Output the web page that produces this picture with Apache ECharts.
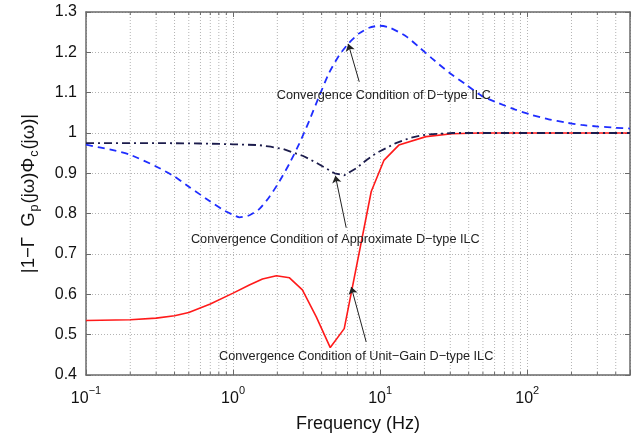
<!DOCTYPE html>
<html>
<head>
<meta charset="utf-8">
<script src="https://cdn.jsdelivr.net/npm/echarts@6/dist/echarts.min.js"></script>
<style>html,body{margin:0;padding:0;background:#fff}#c{width:641px;height:441px}</style>
</head>
<body>
<div id="c"></div>
<script>
// ---- data ----
var X_MIN = 0.1, X_MAX = 500, Y_MIN = 0.4, Y_MAX = 1.3, Y_STEP = 0.1;

var blueFreq = [0.1, 0.15, 0.2, 0.3, 0.4, 0.5, 0.7, 0.85, 1.0, 1.107, 1.294, 1.512, 1.768, 2.067, 2.416, 2.824, 3.301, 3.858, 4.51, 5.27, 6.16, 7.20, 8.42, 9.84, 11.5, 15, 18.5, 22.5, 29.4, 38.4, 49, 64, 83, 107, 140, 182, 234, 305, 400, 500];
var blueVals = [0.971, 0.958, 0.946, 0.917, 0.892, 0.867, 0.830, 0.810, 0.797, 0.791, 0.796, 0.812, 0.842, 0.880, 0.924, 0.974, 1.031, 1.092, 1.150, 1.193, 1.224, 1.247, 1.261, 1.266, 1.262, 1.240, 1.212, 1.185, 1.150, 1.120, 1.092, 1.074, 1.058, 1.045, 1.034, 1.026, 1.020, 1.016, 1.013, 1.011];

var ddFreq = [0.1, 0.3, 0.6, 1.0, 1.5, 1.8, 2.2, 2.5, 3.0, 3.7, 4.3, 4.9, 5.7, 6.9, 8.0, 9.4, 12.8, 16, 20.5, 31, 500];
var ddVals = [0.975, 0.975, 0.974, 0.972, 0.970, 0.966, 0.960, 0.953, 0.943, 0.926, 0.912, 0.900, 0.895, 0.913, 0.932, 0.950, 0.975, 0.988, 0.996, 1.0, 1.0];

var redFreq = [0.1, 0.2, 0.3, 0.4, 0.5, 0.7, 1.0, 1.29, 1.585, 1.97, 2.42, 2.96, 3.68, 4.58, 5.7, 8.7, 10.6, 13.4, 20.5, 30.8, 47, 500];
var redVals = [0.535, 0.537, 0.541, 0.547, 0.555, 0.576, 0.603, 0.623, 0.638, 0.646, 0.641, 0.611, 0.544, 0.468, 0.515, 0.855, 0.932, 0.970, 0.991, 0.998, 1.0, 1.0];

var minorFreqs = [0.2, 0.3, 0.4, 0.5, 0.6, 0.7, 0.8, 0.9, 2, 3, 4, 5, 6, 7, 8, 9, 20, 30, 40, 50, 60, 70, 80, 90, 200, 300, 400];

var annotationTexts = ['Convergence Condition of D\u2212type ILC', 'Convergence Condition of Approximate D\u2212type ILC', 'Convergence Condition of Unit\u2212Gain D\u2212type ILC'];
var annotationAt = [[10.6, 1.092], [4.96, 0.735], [6.87, 0.445]];
var arrowFrom = [[7.21, 1.127], [5.88, 0.765], [8.04, 0.482]];
var arrowTo = [[6.07, 1.221], [4.96, 0.894], [6.36, 0.618]];

var xTitle = 'Frequency (Hz)';

// ---- build ----
function zip(a, b) { return a.map(function (v, i) { return [v, b[i]]; }); }
var FONT = '"Liberation Sans", Arial, Helvetica, sans-serif';
var FRAME = '#6a6a6a';
var GRID = '#b4b4b4';

function decadeLabel(v) {
  var e = Math.round(Math.log(v) / Math.LN10);
  if (Math.abs(v - Math.pow(10, e)) > 1e-6 * v) return '';
  return '{b|10}{s|' + (e < 0 ? '\u2212' + (-e) : String(e)) + '}';
}

var chart = echarts.init(document.getElementById('c'), null, { renderer: 'canvas' });
var option = {
  animation: false,
  backgroundColor: '#fff',
  grid: { left: 86, right: 11, top: 12, bottom: 66, containLabel: false },
  xAxis: [{
    type: 'log', logBase: 10, min: X_MIN, max: X_MAX,
    name: xTitle, nameLocation: 'middle', nameGap: 40,
    nameTextStyle: { fontFamily: FONT, fontSize: 18, color: '#111' },
    axisLine: { show: true, lineStyle: { color: FRAME, width: 1.5 } },
    axisTick: { show: true, inside: true, length: 5, lineStyle: { color: FRAME } },
    axisLabel: {
      formatter: decadeLabel, margin: 10, color: '#111', fontFamily: FONT,
      rich: {
        b: { fontSize: 16, lineHeight: 22, verticalAlign: 'bottom', fontFamily: FONT, color: '#111' },
        s: { fontSize: 11, lineHeight: 12, verticalAlign: 'top', fontFamily: FONT, color: '#111' }
      }
    },
    splitLine: { show: true, lineStyle: { color: GRID, type: [1, 2], width: 1 } }
  }, {
    type: 'log', logBase: 10, min: X_MIN, max: X_MAX, position: 'top',
    axisLine: { show: true, lineStyle: { color: FRAME, width: 1.5 } },
    axisTick: { show: true, inside: true, length: 5, lineStyle: { color: FRAME } },
    axisLabel: { show: false }, splitLine: { show: false }
  }],
  yAxis: [{
    type: 'value', min: Y_MIN, max: Y_MAX, interval: Y_STEP,
    name: '{m||1\u2212\u0393  G}{u|p}{m|(j\u03c9)\u03a6}{u|c}{m|(j\u03c9)|}',
    nameLocation: 'middle', nameGap: 45, nameRotate: 90,
    nameTextStyle: {
      fontFamily: FONT, color: '#111',
      rich: {
        m: { fontSize: 18.5, lineHeight: 22, verticalAlign: 'top', fontFamily: FONT, color: '#111' },
        u: { fontSize: 12.5, lineHeight: 12, verticalAlign: 'bottom', fontFamily: FONT, color: '#111', padding: [0, 1, 0, 1] }
      }
    },
    axisLine: { show: true, lineStyle: { color: FRAME, width: 1.5 } },
    axisTick: { show: true, inside: true, length: 5, lineStyle: { color: FRAME } },
    axisLabel: { fontSize: 16, fontFamily: FONT, color: '#111', margin: 9 },
    splitLine: { show: true, lineStyle: { color: GRID, type: [1, 2], width: 1 } }
  }, {
    type: 'value', min: Y_MIN, max: Y_MAX, interval: Y_STEP, position: 'right',
    axisLine: { show: true, lineStyle: { color: FRAME, width: 1.5 } },
    axisTick: { show: true, inside: true, length: 5, lineStyle: { color: FRAME } },
    axisLabel: { show: false }, splitLine: { show: false }
  }],
  series: [{
    type: 'custom', silent: true, z: 1,
    data: minorFreqs.map(function (f) { return [f, Y_MIN]; }),
    encode: { x: 0, y: 1 },
    renderItem: function (params, api) {
      var f = api.value(0);
      var b = api.coord([f, Y_MIN]);
      var t = api.coord([f, Y_MAX]);
      return {
        type: 'group', children: [
          { type: 'line', shape: { x1: b[0], y1: b[1], x2: t[0], y2: t[1] }, style: { stroke: GRID, lineWidth: 1, lineDash: [1, 2] } },
          { type: 'line', shape: { x1: b[0], y1: b[1], x2: b[0], y2: b[1] - 3 }, style: { stroke: FRAME, lineWidth: 1 } },
          { type: 'line', shape: { x1: t[0], y1: t[1], x2: t[0], y2: t[1] + 3 }, style: { stroke: FRAME, lineWidth: 1 } }
        ]
      };
    }
  }, {
    name: 'Unit-Gain', type: 'line', data: zip(redFreq, redVals), showSymbol: false, z: 3,
    lineStyle: { color: '#ff1a1a', width: 1.6 },
    markLine: {
      silent: true, symbol: ['none', 'arrow'], symbolSize: 7,
      lineStyle: { color: '#222', width: 1, type: 'solid' },
      label: { show: false },
      data: arrowFrom.map(function (p, i) { return [{ coord: p }, { coord: arrowTo[i] }]; })
    },
    markPoint: {
      silent: true, symbol: 'circle', symbolSize: 1, itemStyle: { color: 'rgba(0,0,0,0)' },
      label: { show: true, position: 'inside', fontFamily: FONT, fontSize: 12.7, color: '#222' },
      data: annotationAt.map(function (p, i) { return { coord: p, value: 0, label: { formatter: annotationTexts[i] } }; })
    }
  }, {
    name: 'D-type', type: 'line', data: zip(blueFreq, blueVals), showSymbol: false, smooth: 0.2, z: 4,
    lineStyle: { color: '#1f2dff', width: 1.8, type: [7, 5] }
  }, {
    name: 'Approximate', type: 'line', data: zip(ddFreq, ddVals), showSymbol: false, z: 5,
    lineStyle: { color: '#1c1c4c', width: 1.8, type: [8, 4, 2, 4] }
  }]
};
chart.setOption(option);
</script>
</body>
</html>
